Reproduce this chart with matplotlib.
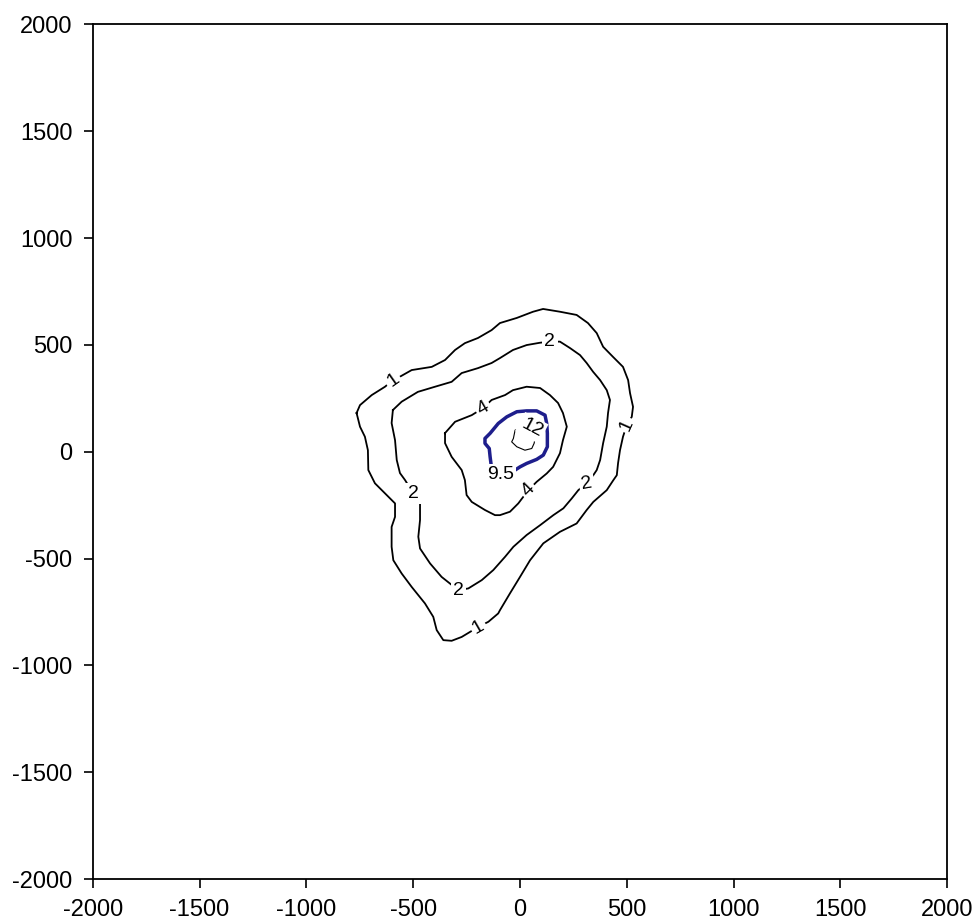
import matplotlib
matplotlib.use('Agg')
import matplotlib.pyplot as plt

plt.rcParams['font.family'] = ['Liberation Sans', 'DejaVu Sans']
plt.rcParams['axes.unicode_minus'] = False

# contour line vertices (x, y)
c1_x = [-765, -749, -694, -632, -595, -562, -507, -413, -351, -304, -258, -197, -133, -94, -15, 61, 108,
        187, 265, 318, 359, 389, 435, 482, 506, 515, 529, 523, 500, 482, 468, 459, 453, 437, 406, 343, 312,
        265, 187, 109, 47, 0, -47, -94, -102, -148, -195, -273, -320, -359, -390, -406, -445, -507, -554,
        -593, -601, -601, -585, -585, -632, -679, -710, -712, -726, -749, -765]
c1_y = [181, 218, 265, 304, 335, 351, 382, 397, 429, 476, 508, 532, 569, 602, 626, 655, 668,
        655, 640, 602, 555, 491, 444, 397, 335, 274, 210, 163, 125, 70, 7, -53, -110, -133, -180, -235, -273,
        -336, -375, -429, -508, -586, -663, -742, -757, -796, -820, -867, -885, -882, -835, -773, -710, -633, -570,
        -508, -445, -352, -305, -242, -195, -148, -86, 7, 70, 117, 181]

c2_x = [-595, -554, -478, -398, -320, -273, -197, -133, -94, -33, 31, 94, 140, 187, 234, 281, 312, 342,
        375, 406, 421, 412, 406, 389, 375, 359, 343, 312, 273, 242, 203, 156, 94, 31, -31, -70, -125, -179,
        -242, -289, -367, -421, -468, -476, -468, -468, -500, -538, -562, -577, -585, -601, -595]
c2_y = [195, 234, 280, 304, 327, 368, 391, 415, 438, 476, 499, 510, 515, 515, 485, 452, 415, 374,
        335, 288, 242, 181, 117, 40, -39, -86, -110, -148, -180, -219, -265, -297, -344, -390, -445, -492, -554, -601,
        -640, -648, -586, -523, -453, -398, -320, -227, -195, -133, -100, -39, 54, 134, 195]

c4_x = [-351, -304, -226, -173, -133, -70, -33, 31, 94, 140, 178, 201, 219, 201, 187, 155, 125, 78, 39,
        -8, -47, -94, -117, -164, -226, -250, -258, -273, -320, -351, -351]
c4_y = [87, 140, 171, 204, 242, 265, 288, 304, 298, 265, 228, 181, 117, 54, -7, -71, -102, -141, -180,
        -242, -281, -297, -297, -273, -235, -203, -133, -86, -24, 40, 87]

c95_x = [-133, -140, -144, -164, -164, -140, -102, -62, -15, 31, 78, 117, 125, 128, 128, 109, 78, 31, 0, -23]
c95_y = [-78, -24, 15, 39, 62, 86, 132, 163, 187, 191, 191, 171, 132, 86, 23, -16, -36, -55, -71, -86]

c12_x = [8, -23, -31, -39, -15, 23, 55, 66, 75, 55, 8]
c12_y = [109, 101, 62, 46, 23, 7, 15, 39, 87, 115, 109]

# contour labels: text, x, y, rotation
lab_text = ['1', '2', '1', '4', '9.5', '12', '4', '2', '2', '2', '1']
lab_x = [-595, 140, 500, -173, -91, 55, 39, 312, -500, -289, -195]
lab_y = [335, 515, 125, 204, -107, 112, -180, -148, -195, -648, -820]
lab_rot = [35, 0, 66, 30, 0, -28, 45, 10, 0, 0, 30]

ticks = [-2000, -1500, -1000, -500, 0, 500, 1000, 1500, 2000]

fig = plt.figure(figsize=(9.75, 9.22), dpi=100)
ax = fig.add_axes([0.0951, 0.0466, 0.8765, 0.927])

for xs, ys in [(c1_x, c1_y), (c2_x, c2_y), (c4_x, c4_y)]:
    ax.plot(xs, ys, color='black', lw=1.3, zorder=2)
ax.plot(c12_x, c12_y, color='black', lw=0.8, zorder=2)
ax.plot(c95_x, c95_y, color='#1e1e8c', lw=2.5, solid_capstyle='butt', zorder=3)

for t, x, y, r in zip(lab_text, lab_x, lab_y, lab_rot):
    ax.text(x, y, t, rotation=r, ha='center', va='center', fontsize=14, zorder=4,
            rotation_mode='anchor',
            bbox=dict(boxstyle='square,pad=0.12', facecolor='white', edgecolor='none'))

ax.set_xlim(-2000, 2000)
ax.set_ylim(-2000, 2000)
ax.set_xticks(ticks)
ax.set_yticks(ticks)
ax.tick_params(direction='out', length=6.5, width=1.2, labelsize=17, pad=8,
               top=False, right=False)
for s in ax.spines.values():
    s.set_linewidth(1.3)

fig.savefig('out.png', dpi=100)
